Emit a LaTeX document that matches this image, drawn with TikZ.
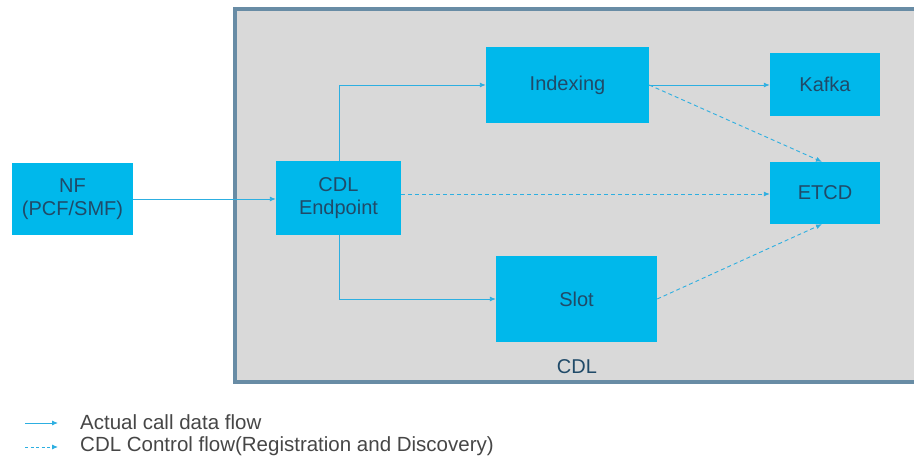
\documentclass[tikz,border=0pt]{standalone}
\usepackage{fontspec}
\setmainfont{Liberation Sans}
\usetikzlibrary{arrows.meta}
\definecolor{boxcyan}{RGB}{0,184,235}
\definecolor{txtblue}{RGB}{32,74,104}
\definecolor{arrblue}{RGB}{45,175,225}
\definecolor{framegray}{RGB}{217,217,217}
\definecolor{frameedge}{RGB}{104,140,165}
\definecolor{legtxt}{RGB}{70,70,70}
\tikzset{
  blk/.style={fill=boxcyan, draw=none, text=txtblue, align=center, font=\fontsize{20}{23}\selectfont, inner sep=0pt},
  flow/.style={draw=arrblue, line width=0.9pt, -{Latex[length=6pt,width=5pt]}},
  ctrl/.style={draw=arrblue, line width=0.9pt, dash pattern=on 4pt off 3pt, -{Latex[length=6pt,width=5pt]}},
  legend/.style={anchor=west, text=legtxt, font=\fontsize{20.5}{23}\selectfont, inner sep=0pt}
}
\begin{document}
\begin{tikzpicture}[x=1pt,y=-1pt]
\useasboundingbox (0,0) rectangle (914,462);
\begin{scope}
\clip (0,0) rectangle (914,462);
\draw[fill=framegray, draw=frameedge, line width=4pt] (235,9) rectangle (940,382);
\end{scope}
\node[blk, minimum width=121pt, minimum height=72pt] (nf) at (72.5,199) {NF\\(PCF/SMF)};
\node[blk, minimum width=125pt, minimum height=74pt] (ep) at (338.5,198) {CDL\\Endpoint};
\node[blk, minimum width=163pt, minimum height=76pt] (idx) at (567.5,85) {Indexing};
\node[blk, minimum width=110pt, minimum height=63pt] (kafka) at (825,84.5) {Kafka};
\node[blk, minimum width=110pt, minimum height=62pt] (etcd) at (825,193) {ETCD};
\node[blk, minimum width=161pt, minimum height=86pt] (slot) at (576.5,299) {Slot};
\node[text=txtblue, font=\fontsize{20}{23}\selectfont, inner sep=0pt] (cdl) at (577,367) {CDL};
\coordinate (eptop) at (339,161);
\coordinate (epbot) at (339,235);
\draw[flow] (nf.east |- 0,199) -- (ep.west |- 0,199);
\draw[flow] (eptop) |- (idx.west);
\draw[flow] (epbot) |- (slot.west);
\draw[flow] (idx.east) -- (kafka.west |- idx.east);
\draw[ctrl] (ep.east |- 0,194) -- (etcd.west |- 0,194);
\draw[ctrl] (idx.east) -- ([xshift=-3pt]etcd.north);
\draw[ctrl] (slot.east) -- ([xshift=-3pt]etcd.south);
\coordinate (l1a) at (25,423);
\coordinate (l1b) at (58,423);
\coordinate (l2a) at (25,447);
\coordinate (l2b) at (58,447);
\draw[flow] (l1a) -- (l1b);
\draw[ctrl, dash pattern=on 3pt off 2.5pt] (l2a) -- (l2b);
\node[legend] (lt1) at (80,422) {Actual call data flow};
\node[legend] (lt2) at (80,446) {CDL Control flow(Registration and Discovery)};
\end{tikzpicture}
\end{document}
